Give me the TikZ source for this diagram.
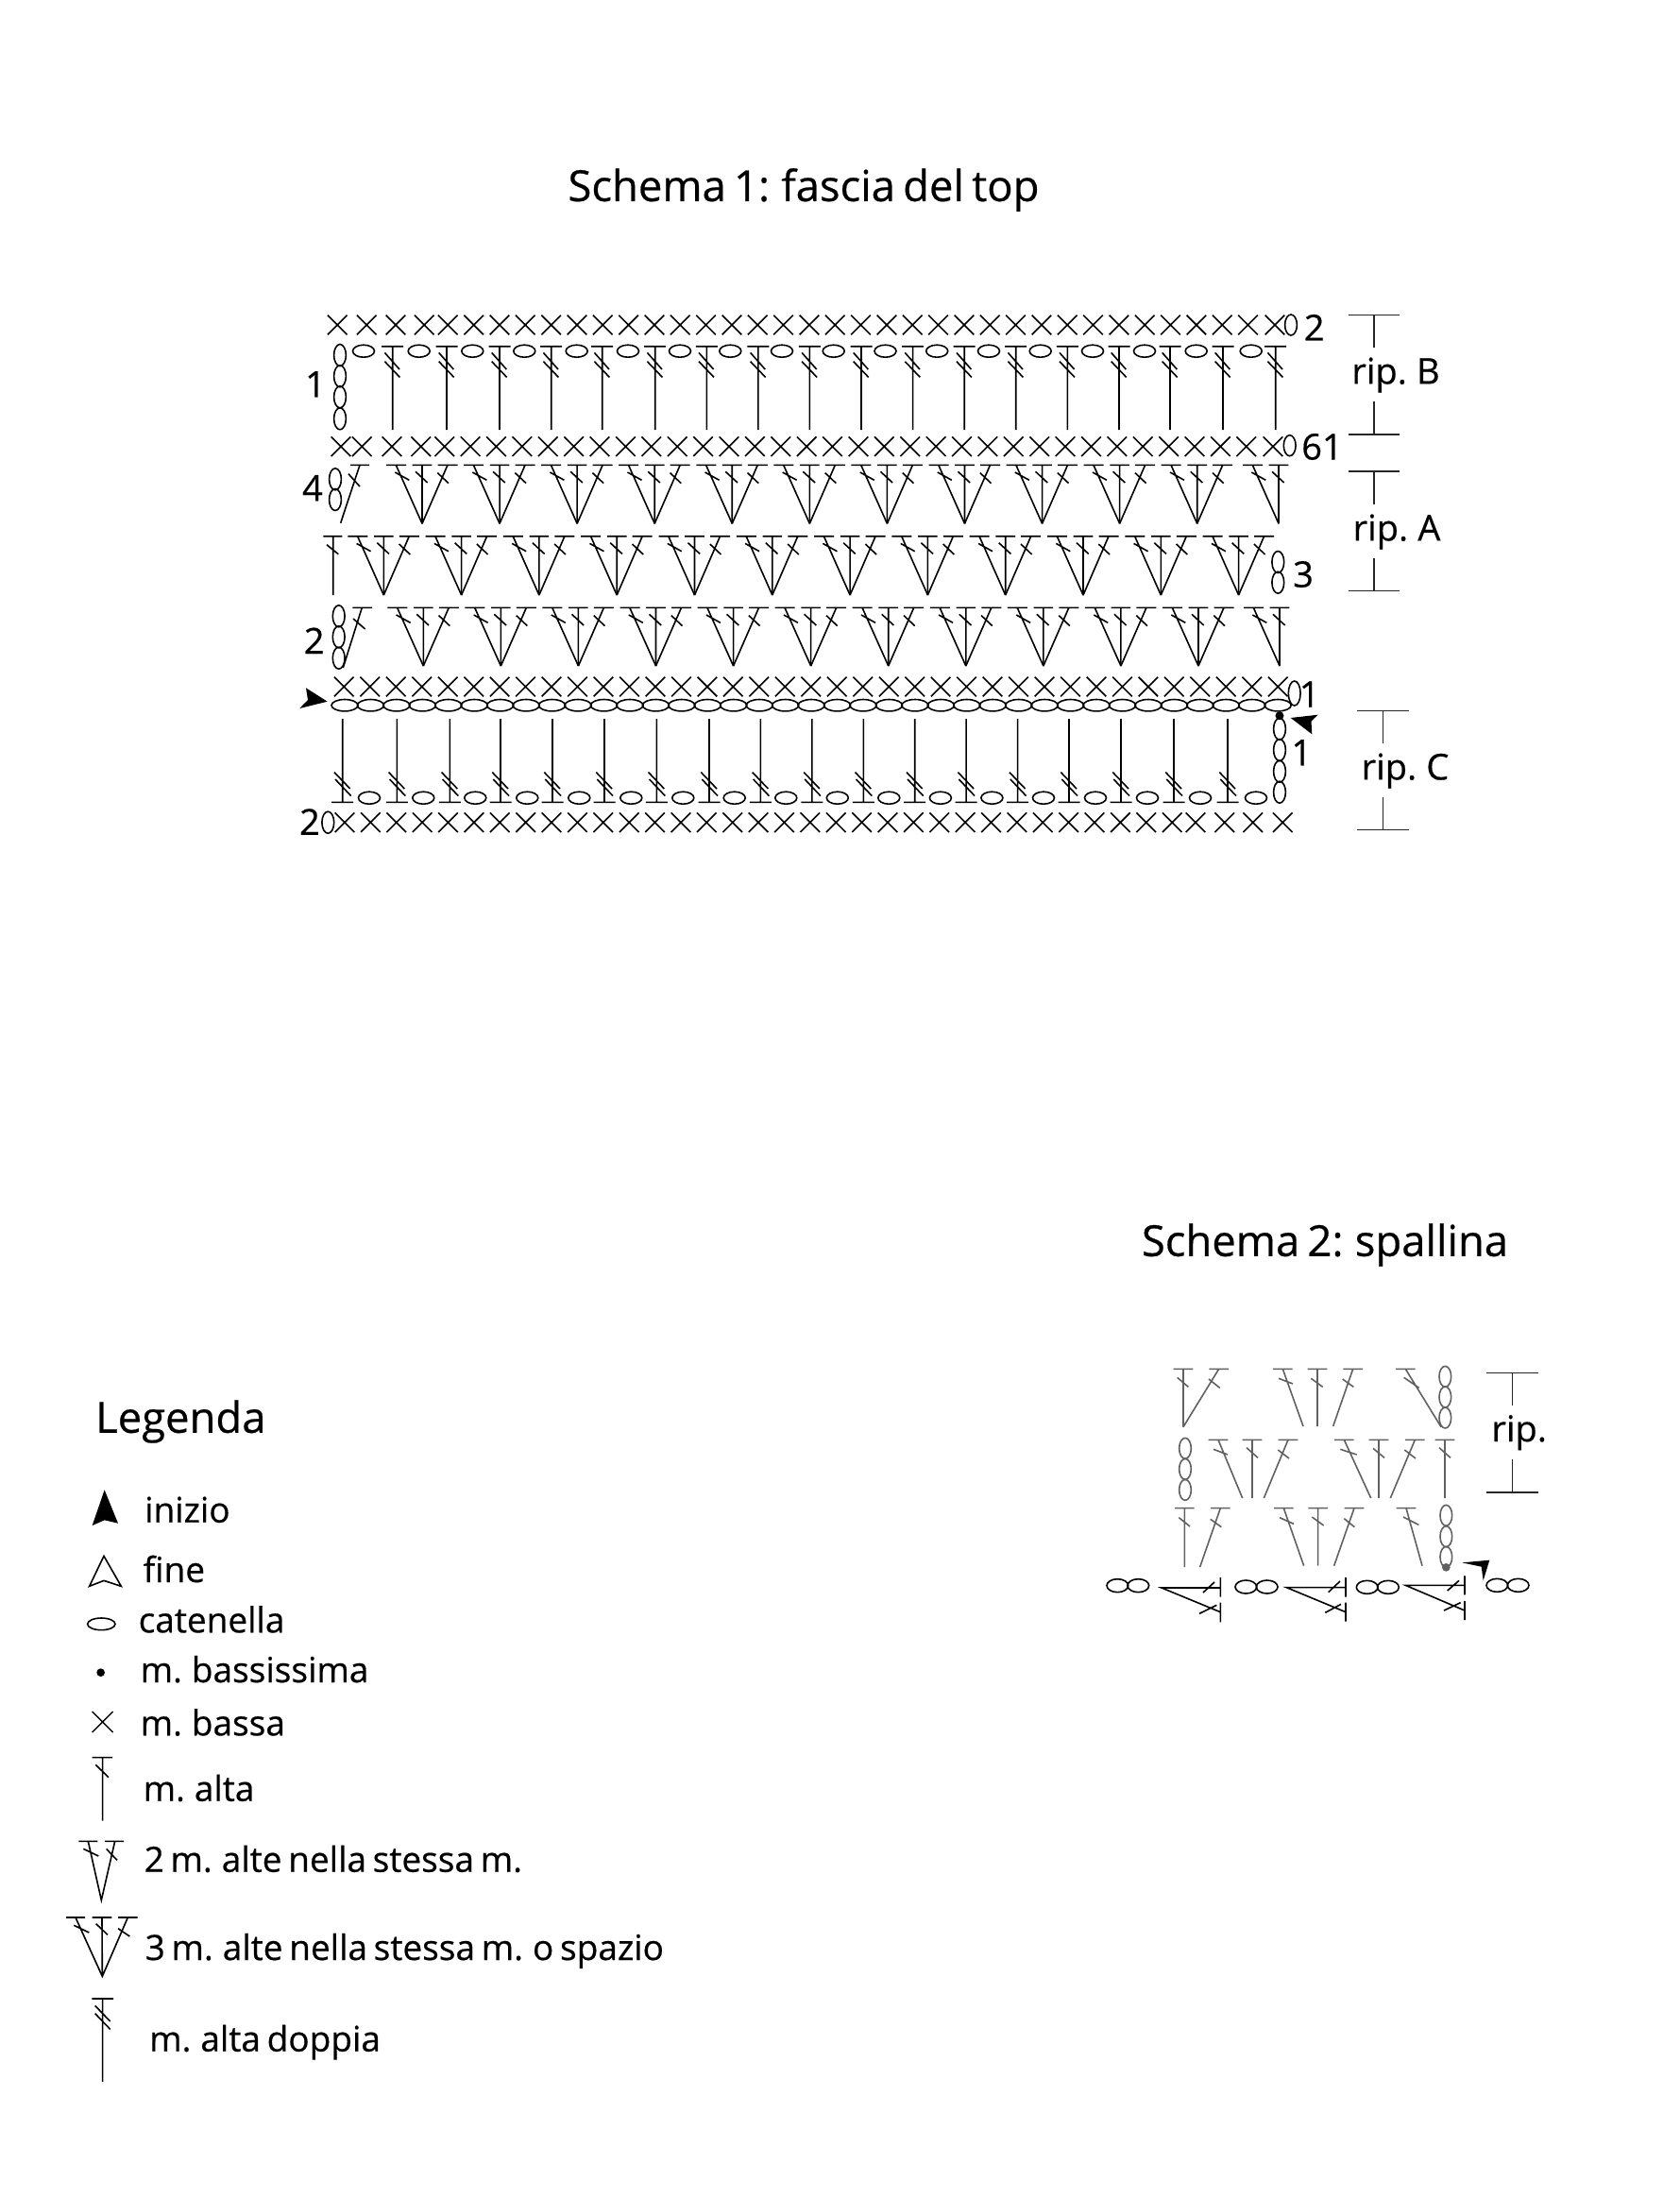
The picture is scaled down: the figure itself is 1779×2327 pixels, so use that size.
\documentclass[tikz,border=0pt]{standalone}
\usepackage{fontspec}
\setmainfont[WordSpace=0.7,FakeBold=0.5]{Open Sans}
\newcommand{\lab}{\fontsize{38}{38}\selectfont}
\newcommand{\ttl}{\fontsize{45.4}{45.4}\selectfont}
\newcommand{\leg}{\fontsize{37}{37}\selectfont}
% stitch helpers, arguments in pixels
\newcommand{\Xst}[2]{\draw[st] ({#1-10.3},{#2-10.3})--({#1+10.3},{#2+10.3}) ({#1-10.3},{#2+10.3})--({#1+10.3},{#2-10.3});}
\newcommand{\ChH}[2]{\draw[st] (#1,#2) ellipse [x radius=11.5,y radius=6.5];}
\newcommand{\ChW}[2]{\draw[st] (#1,#2) ellipse [x radius=14,y radius=6.2];}
\newcommand{\ChV}[2]{\draw[st] (#1,#2) ellipse [x radius=6.4,y radius=11.5];}
% tall stem with a double slash near the top
\newcommand{\DDown}[3]{\draw[st] (#1,#2)--(#1,#3) ({#1-11.5},#2)--({#1+11.5},#2)
 ({#1-8.3},{#2+6.7})--({#1+7.3},{#2+24.3}) ({#1-8.3},{#2+16})--({#1+7.7},{#2+32.7});}
\newcommand{\DUp}[3]{\draw[st] (#1,#2)--(#1,#3) ({#1-11.5},#2)--({#1+11.5},#2)
 ({#1-8.7},{#2-31.7})--({#1+8},{#2-14.3}) ({#1-7.7},{#2-24.3})--({#1+9},{#2-6.7});}
% fan parts: apex x, top y, apex y
\newcommand{\FanL}[3]{\draw[st] (#1,#3)--({#1-27.7},#2) ({#1-38},#2)--({#1-17},#2)
 ({#1-28.7},{#2+7.7})--({#1-13.7},{#2+16});}
\newcommand{\FanC}[3]{\draw[st] (#1,#3)--(#1,#2) ({#1-10.3},#2)--({#1+10.3},#2)
 ({#1-7},{#2+7})--({#1+5.7},{#2+18.7});}
\newcommand{\FanR}[3]{\draw[st] (#1,#3)--({#1+27},#2) ({#1+16.5},#2)--({#1+37.5},#2)
 ({#1+16.3},{#2+8.3})--({#1+28},{#2+19.3});}
\newcommand{\Fan}[3]{\FanL{#1}{#2}{#3}\FanC{#1}{#2}{#3}\FanR{#1}{#2}{#3}}
% zoom-unit stitch: top x, top y, bottom x, bottom y, slash start, slash end
\newcommand{\Zs}[6]{\draw[st] (#1,#2)--(#3,#4) ({#1-31},#2)--({#1+31},#2) #5--#6;}
\newcommand{\ZCh}[2]{\draw[st] (#1,#2) ellipse [x radius=19,y radius=33];}
\tikzset{
 st/.style={line width=1.6pt,line cap=butt},
 thin bracket/.style={line width=1.3pt,color=black!85},
 label/.style={inner sep=0pt,font=\lab},
 legtext/.style={inner sep=0pt,anchor=base west,font=\leg},
}
\begin{document}
\begin{tikzpicture}[x=1pt,y=-1pt]
\useasboundingbox (0,0) rectangle (1779,2327);
\fill[white] (0,0) rectangle (1779,2327);
% titles
\node[inner sep=0pt,font=\ttl] (t1) at (851,201) {Schema 1: fascia del top};
\node[inner sep=0pt,font=\ttl] (t2) at (1403,1318) {Schema 2: spallina};
\node[inner sep=0pt,font=\ttl,anchor=west] (t3) at (101,1505) {Legenda};
% ---- row: top X
\foreach \x in {357.3,388.3,419,449.3,1350}{\Xst{\x}{344}}
\foreach \i [evaluate=\i as \x using 474.3+\i*27.33] in {0,...,31}{\Xst{\x}{344}}
\draw[st] (1367,344) ellipse [x radius=6.4,y radius=11];
% ---- tall row
\foreach \y in {376,398.3,420.3,443.3}{\ChV{360}{\y}}
\foreach \x in {415.7,473,529,583.7,637.7,693.7,748.3,802.9,857.4,912,966.6,1021.2,1075.7,1130.3,1185,1239,1295,1350.7}{\DDown{\x}{366.7}{455}}
\foreach \x in {385,443.7,500.3,555.3,610.7,665,720,773.3,828,882.7,937.5,992.2,1047,1101.7,1157,1212,1266.7,1324.7}{\ChH{\x}{371.7}}
% ---- X row 61
\foreach \x in {361,383.3,415,445.7,1348}{\Xst{\x}{472.7}}
\foreach \i [evaluate=\i as \x using 470.7+\i*27.39] in {0,...,31}{\Xst{\x}{472.7}}
\draw[st] (1365.7,471.7) ellipse [x radius=6.4,y radius=11];
% ---- fan row 4
\ChV{355}{507.3}\ChV{355}{529}
\draw[st] (360.7,553.7)--(381,492.3) (371,492.3)--(391,492.3) (369,501.7)--(381,515);
\foreach \i [evaluate=\i as \x using 447+\i*82.07] in {0,...,10}{\Fan{\x}{492.3}{554.3}}
\FanL{1354}{492.3}{554.3}\FanC{1354}{492.3}{554.3}
% ---- fan row 3
\draw[st] (352.7,567.7)--(352.7,630) (342.3,567.7)--(362.3,567.7) (346,576.7)--(358.3,586.7);
\foreach \i [evaluate=\i as \x using 406.3+\i*82.3] in {0,...,11}{\Fan{\x}{567.7}{630}}
\ChV{1353.3}{595}\ChV{1353.3}{616.7}
% ---- fan row 2
\ChV{358.7}{652.3}\ChV{358.7}{674.3}\ChV{358.7}{696.7}
\draw[st] (363.3,707)--(383.3,643.3) (373.3,643.3)--(394,643.3) (374,655)--(386.7,666);
\foreach \i [evaluate=\i as \x using 448.3+\i*82.07] in {0,...,10}{\Fan{\x}{643.3}{705}}
\FanL{1355}{643.3}{705}\FanC{1355}{643.3}{705}
% ---- X row + foundation chain
\foreach \i [evaluate=\i as \x using 364.3+\i*27.47] in {0,...,36}{\Xst{\x}{727}}
\foreach \i [evaluate=\i as \x using 365+\i*27.45] in {0,...,36}{\ChW{\x}{746.7}}
\draw[st] (1370.7,734) ellipse [x radius=6.4,y radius=13];
% ---- bottom tall row
\foreach \x in {362.7,420.3,476.3,530,585,640,695.3,751,805.4,859.9,914.3,968.7,1023.1,1077.6,1132,1187,1243,1300}{\DUp{\x}{849.3}{761}}
\foreach \x in {391,448.3,503.3,558.3,613.3,668.3,723.3,777.7,832.3,886.8,941.3,995.9,1050.4,1105,1160,1215,1271,1330}{\ChH{\x}{844.7}}
\foreach \y in {771.7,794,816.7,838.7}{\ChV{1355}{\y}}
\fill (1355,757.7) circle [radius=4.5];
% ---- bottom X row
\foreach \i [evaluate=\i as \x using 365+\i*27.38] in {0,...,32}{\Xst{\x}{870.7}}
\foreach \x in {1266,1296.7,1326.7,1358.3}{\Xst{\x}{870.7}}
\ChV{347.3}{870.7}
% arrows
\fill (346.7,742.7)--(324,728.3)--(326,741)--(317.3,750)--cycle;
\fill (1366.7,760)--(1395.7,756.7)--(1388.5,763.5)--(1389.3,777.3)--cycle;
% row numbers
\node[label] (n2a) at (1391.7,346.7) {2};
\node[label] (n61) at (1400,473) {61};
\node[label] (n3) at (1380,608) {3};
\node[label] (n1a) at (334,406.7) {1};
\node[label] (n4) at (331,516.7) {4};
\node[label] (n2b) at (332.7,678.3) {2};
\node[label] (n1b) at (1386.7,735) {1};
\node[label] (n1c) at (1378.3,796.7) {1};
\node[label] (n2c) at (328,870) {2};
% brackets
\draw[thin bracket] (1427.7,333.3)--(1482.3,333.3) (1455,333.3)--(1455,368) (1455,425)--(1455,460) (1427.7,460)--(1482.3,460);
\node[label] (rb) at (1478,397) {rip. B};
\draw[thin bracket] (1427.7,499)--(1482.3,499) (1455,499)--(1455,534) (1455,590.7)--(1455,625.3) (1427.7,625.3)--(1482.3,625.3);
\node[label] (ra) at (1479,563) {rip. A};
\draw[thin bracket] (1437,752.3)--(1491.7,752.3) (1464.3,752.3)--(1464.3,786.7) (1464.3,844)--(1464.3,878.7) (1437,878.7)--(1491.7,878.7);
\node[label] (rc) at (1488,816) {rip. C};
% ---- Schema 2, given in crop units
\begin{scope}[shift={(1150,1420)},x=1/3*1pt,y=-1/3*1pt]
\begin{scope}[color=black!62,every path/.append style={color=black!62}]
\Zs{309}{88}{309}{272}{(290,115)}{(325,145)}
\Zs{422}{88}{309}{272}{(390,120)}{(425,148)}
\Zs{625}{88}{690}{270}{(612,118)}{(657,135)}
\Zs{735}{88}{735}{270}{(715,118)}{(752,145)}
\Zs{848}{88}{785}{270}{(815,120)}{(850,145)}
\Zs{1015}{88}{1128}{272}{(1010,115)}{(1058,148)}
\foreach \y in {112,177,243}{\ZCh{1141}{\y}}
\foreach \y in {340,406,472}{\ZCh{315}{\y}}
\Zs{420}{313}{497}{498}{(405,343)}{(450,360)}
\Zs{528}{313}{528}{498}{(510,338)}{(546,370)}
\Zs{642}{313}{565}{498}{(610,345)}{(645,372)}
\Zs{820}{313}{905}{498}{(808,343)}{(860,360)}
\Zs{930}{313}{930}{498}{(912,340)}{(948,370)}
\Zs{1045}{313}{967}{498}{(1012,345)}{(1047,372)}
\Zs{1140}{313}{1140}{498}{(1122,338)}{(1158,370)}
\Zs{313}{530}{313}{717}{(295,560)}{(330,588)}
\Zs{427}{530}{362}{717}{(395,565)}{(430,590)}
\Zs{628}{530}{692}{713}{(615,560)}{(660,580)}
\Zs{737}{530}{737}{713}{(718,558)}{(755,585)}
\Zs{852}{530}{788}{713}{(820,563)}{(853,590)}
\Zs{1017}{530}{1068}{713}{(1008,558)}{(1057,583)}
\foreach \y in {553,620,685}{\ZCh{1144}{\y}}
\fill (1144,718) circle [radius=13];
\end{scope}
\fill (1262,760)--(1256,716)--(1195,703)--(1282,695)--cycle;
% horizontal row in black
\foreach \x/\y in {100/776,166/776,508/780,575/780,893/781,960/781,1306/775,1373/775}{\draw[st] (\x,\y) ellipse [x radius=34,y radius=21];}
\draw[st] (427,783)--(240,783)--(427,860) (427,750)--(427,812) (427,830)--(427,892) (372,798)--(408,765) (360,865)--(415,838);
\draw[st] (825,782)--(637,782)--(825,860) (825,750)--(825,812) (825,830)--(825,890) (770,797)--(807,762) (760,862)--(810,835);
\draw[st] (1203,775)--(1015,775)--(1203,855) (1203,745)--(1203,805) (1203,825)--(1203,885) (1148,792)--(1185,760) (1137,855)--(1190,830);
\draw[thin bracket] (1272,100)--(1438,100) (1355,100)--(1355,205) (1355,375)--(1355,480) (1272,480)--(1438,480);
\node[label] (rr) at (1376,290) {rip.};
\end{scope}
% ---- Legend, given in crop units
\begin{scope}[shift={(60,1560)},x=1/3*1pt,y=-1/3*1pt]
\fill (152,52)--(113,165)--(152,148)--(195,158)--cycle;
\draw[st] (150,262)--(104,358)--(150,340)--(205,358)--cycle;
\draw[st] (142,478) ellipse [x radius=44,y radius=19];
\fill (140,632) circle [radius=13];
\draw[st,line width=1.4pt] (113,756)--(179,822) (113,822)--(179,756);
\draw[st] (146,902)--(146,1103) (113,902)--(177,902) (124,925)--(165,965);
\end{scope}
\begin{scope}[shift={(60,1920)},x=1/3*1pt,y=-1/3*1pt]
\draw[st] (100,88)--(142,275)--(185,88) (70,88)--(130,88) (153,88)--(213,88) (85,112)--(133,135) (158,112)--(192,148);
\draw[st] (60,330)--(145,517)--(226,330) (144,330)--(145,517) (30,330)--(90,330) (113,330)--(175,330) (195,330)--(257,330) (55,355)--(103,378) (125,350)--(162,385) (195,365)--(232,390);
\draw[st] (146,588)--(146,852) (112,588)--(180,588) (122,610)--(170,660) (122,635)--(170,685);
\end{scope}
\node[legtext] (l1) at (153,1611.7) {inizio};
\node[legtext] (l2) at (151.5,1675) {fine};
\node[legtext] (l3) at (146.5,1728.3) {catenella};
\node[legtext] (l4) at (148.5,1781) {m. bassissima};
\node[legtext] (l5) at (148.5,1837.3) {m. bassa};
\node[legtext] (l6) at (151.5,1906.7) {m. alta};
\node[legtext] (l7) at (152.5,1981.7) {2 m. alte nella stessa m.};
\node[legtext] (l8) at (153.5,2075) {3 m. alte nella stessa m. o spazio};
\node[legtext] (l9) at (158,2171.7) {m. alta doppia};
\end{tikzpicture}
\end{document}
